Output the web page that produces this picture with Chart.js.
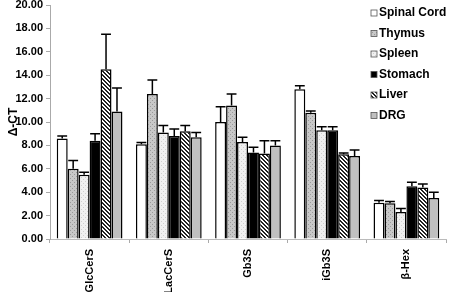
<!DOCTYPE html>
<html>
<head>
<meta charset="utf-8">
<script src="https://cdn.jsdelivr.net/npm/chart.js@4"></script>
<style>
  html, body { margin: 0; padding: 0; background: #fff; }
  #wrap { width: 450px; height: 292px; position: relative; }
</style>
</head>
<body>
<div id="wrap"><canvas id="chart"></canvas></div>
<script>
const categories = ["GlcCerS", "LacCerS", "Gb3S", "iGb3S", "\u03B2-Hex"];
const tissues = ["Spinal Cord", "Thymus", "Spleen", "Stomach", "Liver", "DRG"];

const spinalCord = [8.6, 8.1, 10.0, 12.8, 3.1];
const thymus = [6.0, 12.4, 11.4, 10.8, 3.05];
const spleen = [5.5, 9.1, 8.3, 9.3, 2.3];
const stomach = [8.4, 8.8, 7.4, 9.3, 4.5];
const liver = [14.5, 9.2, 7.3, 7.25, 4.4];
const drg = [10.9, 8.7, 8.0, 7.1, 3.5];

const spinalCordErr = [0.2, 0.15, 1.3, 0.3, 0.2];
const thymusErr = [0.7, 1.2, 1.0, 0.15, 0.15];
const spleenErr = [0.2, 0.6, 0.4, 0.3, 0.3];
const stomachErr = [0.6, 0.6, 0.45, 0.3, 0.35];
const liverErr = [3.0, 0.5, 1.1, 0.1, 0.3];
const drgErr = [2.0, 0.4, 0.4, 0.5, 0.5];

const yTicks = [0, 2, 4, 6, 8, 10, 12, 14, 16, 18, 20];

// small tile patterns for the bar fills
function makePattern(size, draw) {
  const c = document.createElement("canvas");
  c.width = size;
  c.height = size;
  draw(c.getContext("2d"));
  return c.getContext("2d").createPattern(c, "repeat");
}

const thymusFill = makePattern(4, (g) => {
  g.fillStyle = "#c8c8c8";
  g.fillRect(0, 0, 4, 4);
  g.fillStyle = "#9a9a9a";
  g.fillRect(0, 0, 1, 1);
  g.fillRect(2, 2, 1, 1);
});
const spleenFill = makePattern(4, (g) => {
  g.fillStyle = "#f0f0f0";
  g.fillRect(0, 0, 4, 4);
  g.fillStyle = "#cfcfcf";
  g.fillRect(1, 1, 1, 1);
  g.fillRect(3, 3, 1, 1);
});
const liverFill = makePattern(4, (g) => {
  g.fillStyle = "#ffffff";
  g.fillRect(0, 0, 4, 4);
  g.fillStyle = "#222222";
  for (let i = 0; i < 4; i++) {
    g.fillRect(i, i, 1, 1);
    g.fillRect(i, (i + 1) % 4, 1, 1);
  }
});

const fills = ["#ffffff", thymusFill, spleenFill, "#000000", liverFill, "#c0c0c0"];
const values = [spinalCord, thymus, spleen, stomach, liver, drg];
const errors = [spinalCordErr, thymusErr, spleenErr, stomachErr, liverErr, drgErr];

const errorBars = {
  id: "errorBars",
  afterDatasetsDraw(chart) {
    const ctx = chart.ctx;
    const y = chart.scales.y;
    ctx.save();
    ctx.strokeStyle = "#000";
    ctx.lineWidth = 1.5;
    chart.data.datasets.forEach((ds, i) => {
      const meta = chart.getDatasetMeta(i);
      meta.data.forEach((bar, j) => {
        const top = y.getPixelForValue(ds.data[j] + errors[i][j]);
        const half = bar.width * 0.45;
        ctx.beginPath();
        ctx.moveTo(bar.x, bar.y);
        ctx.lineTo(bar.x, top);
        ctx.moveTo(bar.x - half, top);
        ctx.lineTo(bar.x + half, top);
        ctx.stroke();
      });
    });
    ctx.restore();
  },
};

const sideLegend = {
  id: "sideLegend",
  afterDraw(chart) {
    const ctx = chart.ctx;
    ctx.save();
    ctx.font = "bold 12px 'Liberation Sans', Arial, sans-serif";
    ctx.textBaseline = "middle";
    tissues.forEach((name, i) => {
      const cy = 13 + i * 20.5;
      ctx.fillStyle = fills[i];
      ctx.fillRect(371, cy - 3, 6, 6);
      ctx.strokeStyle = "#555";
      ctx.lineWidth = 0.8;
      ctx.strokeRect(371, cy - 3, 6, 6);
      ctx.fillStyle = "#000";
      ctx.fillText(name, 379, cy);
    });
    ctx.restore();
  },
};

const chart = new Chart(document.getElementById("chart"), {
  type: "bar",
  data: {
    labels: categories,
    datasets: tissues.map((name, i) => ({
      label: name,
      data: values[i],
      backgroundColor: fills[i],
      borderColor: "#000",
      borderWidth: 1.5,
      barPercentage: 1,
      categoryPercentage: 0.83,
    })),
  },
  options: {
    responsive: true,
    maintainAspectRatio: false,
    animation: false,
    layout: { padding: { top: 5, right: 4, left: 0, bottom: 0 } },
    plugins: {
      legend: { display: false },
      tooltip: { enabled: false },
    },
    scales: {
      x: {
        grid: { display: true, offset: true, drawOnChartArea: false, tickLength: 4, color: "#aaa" },
        border: { color: "#bbb" },
        ticks: {
          minRotation: 90,
          maxRotation: 90,
          padding: 6,
          color: "#000",
          font: { family: "'Liberation Sans', Arial, sans-serif", size: 11, weight: "bold" },
        },
        afterFit(scale) {
          scale.height = 53;
          scale.paddingLeft = 0;
          scale.paddingRight = 0;
        },
      },
      y: {
        min: 0,
        max: 20,
        afterBuildTicks(scale) { scale.ticks = yTicks.map((v) => ({ value: v })); },
        grid: { display: true, drawOnChartArea: false, tickLength: 4, color: "#aaa" },
        border: { color: "#aaa" },
        ticks: {
          color: "#000",
          padding: 3,
          callback: (v) => v.toFixed(2),
          font: { family: "'Liberation Sans', Arial, sans-serif", size: 11, weight: "bold" },
        },
        title: {
          display: true,
          text: "\u0394-CT",
          color: "#000",
          padding: { top: 6, bottom: 0 },
          font: { family: "'Liberation Sans', Arial, sans-serif", size: 12, weight: "bold" },
        },
        afterFit(scale) {
          scale.width = 50;
          scale.paddingTop = 0;
          scale.paddingBottom = 0;
        },
      },
    },
  },
  plugins: [errorBars, sideLegend],
});
</script>
</body>
</html>
